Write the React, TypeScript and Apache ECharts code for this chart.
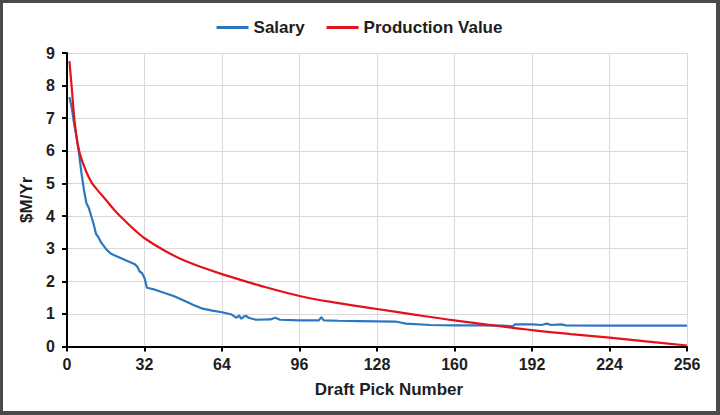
import React, { useEffect, useRef } from 'react';
import * as echarts from 'echarts';

// pick numbers and $M/Yr values
const salaryPicks = [1, 2, 3, 4, 5, 6, 7, 8, 9, 10, 11, 12, 13, 14, 16, 18, 20, 24, 28, 29, 30, 31, 32, 33, 36, 40, 44, 48, 52, 56, 60, 64, 68, 70, 71, 72, 73, 74, 75, 78, 84, 86, 88, 96, 100, 104, 105, 106, 112, 120, 128, 136, 140, 150, 160, 170, 180, 184, 185, 192, 196, 198, 200, 204, 206, 220, 240, 256];
const salaryValues = [7.65, 7.3, 6.8, 6.4, 5.9, 5.3, 4.8, 4.4, 4.25, 4.0, 3.75, 3.45, 3.35, 3.2, 3.0, 2.85, 2.78, 2.65, 2.52, 2.45, 2.3, 2.25, 2.1, 1.8, 1.75, 1.65, 1.55, 1.42, 1.28, 1.16, 1.1, 1.05, 0.98, 0.88, 0.95, 0.85, 0.92, 0.94, 0.88, 0.82, 0.83, 0.88, 0.82, 0.8, 0.8, 0.8, 0.9, 0.8, 0.79, 0.78, 0.77, 0.76, 0.7, 0.66, 0.65, 0.65, 0.64, 0.62, 0.68, 0.68, 0.66, 0.7, 0.66, 0.68, 0.65, 0.64, 0.64, 0.64];

const prodPicks = [1, 2, 3, 4, 5, 6, 8, 10, 12, 16, 20, 24, 28, 32, 40, 48, 56, 64, 80, 96, 112, 128, 144, 160, 176, 192, 208, 224, 240, 256];
const prodValues = [8.75, 7.9, 7.0, 6.4, 6.0, 5.75, 5.35, 5.05, 4.85, 4.5, 4.15, 3.85, 3.57, 3.32, 2.95, 2.65, 2.42, 2.22, 1.86, 1.55, 1.33, 1.15, 0.97, 0.8, 0.65, 0.5, 0.38, 0.27, 0.15, 0.03];

const FONT = '"Liberation Sans", Arial, sans-serif';
const TEXT = '#1e1e1e';

const App: React.FC = () => {
  const chartRef = useRef<HTMLDivElement | null>(null);

  useEffect(() => {
    if (!chartRef.current) return;
    const chart = echarts.init(chartRef.current, undefined, { renderer: 'svg' });

    const salary = salaryPicks.map((p, i) => [p, salaryValues[i]]);
    const prod = prodPicks.map((p, i) => [p, prodValues[i]]);

    chart.setOption({
      animation: false,
      backgroundColor: '#ffffff',
      textStyle: { fontFamily: FONT },
      legend: {
        top: 11,
        left: 'center',
        itemWidth: 32,
        itemHeight: 3,
        itemGap: 22,
        icon: 'rect',
        textStyle: { fontSize: 17, fontWeight: 'bold', color: TEXT, fontFamily: FONT },
        data: ['Salary', 'Production Value'],
      },
      grid: { left: 64, right: 29, top: 50, bottom: 64.5 },
      xAxis: {
        type: 'value',
        min: 0,
        max: 256,
        interval: 32,
        name: 'Draft Pick Number',
        nameLocation: 'middle',
        nameGap: 34,
        nameTextStyle: { fontSize: 17, fontWeight: 'bold', color: TEXT, fontFamily: FONT, padding: [0, 0, 0, 24] },
        axisLine: { onZero: false, lineStyle: { color: '#000', width: 2 } },
        axisTick: { show: true, length: 5, lineStyle: { color: '#000', width: 2 } },
        axisLabel: { fontSize: 16, fontWeight: 'bold', color: TEXT, margin: 10, fontFamily: FONT },
        splitLine: { show: true, lineStyle: { color: '#d9d9d9', width: 1 } },
      },
      yAxis: {
        type: 'value',
        min: 0,
        max: 9,
        interval: 1,
        name: '$M/Yr',
        nameLocation: 'middle',
        nameGap: 26,
        nameTextStyle: { fontSize: 17, fontWeight: 'bold', color: TEXT, fontFamily: FONT },
        axisLine: { show: true, lineStyle: { color: '#000', width: 2 } },
        axisTick: { show: true, length: 5, lineStyle: { color: '#000', width: 2 } },
        axisLabel: { fontSize: 16, fontWeight: 'bold', color: TEXT, margin: 12, fontFamily: FONT },
        splitLine: { show: true, lineStyle: { color: '#d9d9d9', width: 1 } },
      },
      series: [
        {
          name: 'Salary',
          type: 'line',
          data: salary,
          showSymbol: false,
          symbol: 'none',
          lineStyle: { color: '#2a78c0', width: 2.2 },
          itemStyle: { color: '#2a78c0' },
          z: 3,
        },
        {
          name: 'Production Value',
          type: 'line',
          data: prod,
          smooth: 0.4,
          showSymbol: false,
          symbol: 'none',
          lineStyle: { color: '#e3121b', width: 2.2 },
          itemStyle: { color: '#e3121b' },
          z: 4,
        },
      ],
    });

    return () => chart.dispose();
  }, []);

  return (
    <div
      style={{
        position: 'fixed',
        left: 0,
        top: 0,
        width: 720,
        height: 415,
        boxSizing: 'border-box',
        borderStyle: 'solid',
        borderColor: '#4a4a4a',
        borderWidth: '3px 4px 4px 3px',
        background: '#fff',
      }}
    >
      <div ref={chartRef} style={{ width: 713, height: 408 }} />
    </div>
  );
};

export default App;
